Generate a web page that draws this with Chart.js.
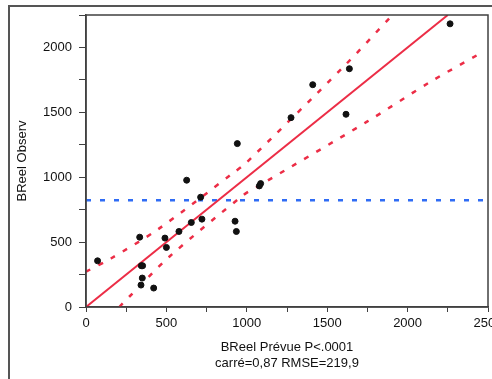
<!DOCTYPE html>
<html lang="fr">
<head>
  <meta charset="UTF-8" />
  <title>BReel Observ vs Prévue</title>
  <style>
    body {
      margin: 0;
      background-color: #ffffff;
    }
    .wrap {
      position: relative;
      width: 492px;
      height: 379px;
    }
  </style>
</head>
<body>
  <div class="wrap">
    <canvas id="fitChart" width="492" height="379"></canvas>
  </div>

  <script src="https://cdn.jsdelivr.net/npm/chart.js"></script>
  <script>
    // valeurs
    const predicted = [72, 334, 344, 352, 350, 342, 421, 491, 500, 578, 655, 713, 721, 626,
                       927, 935, 941, 1275, 1410, 1638, 1617, 1078, 1086, 2264];
    const observed  = [356, 538, 318, 318, 223, 169, 146, 531, 459, 582, 651, 846, 677, 977,
                       661, 582, 1259, 1459, 1713, 1836, 1485, 933, 951, 2182];
    const meanObserved = 823;
    const fitX = [0, 2250];
    const fitY = [0, 2250];
    const upperX = [0, 155, 446, 916, 991, 1600, 1901];
    const upperY = [272, 374, 597, 1033, 1105, 1849, 2244];
    const lowerX = [207, 269, 518, 978, 1057, 1745, 2139, 2440];
    const lowerY = [0, 79, 387, 862, 921, 1426, 1733, 1946];
    const xTicksMax = 2500;
    const yTicksMax = 2250;

    const red = '#ec2d46';
    const blue = '#2f6cf5';
    const axisColor = '#404040';

    const toPoints = (xs, ys) => xs.map((x, i) => ({ x: x, y: ys[i] }));

    // cadre du graphique et cadre extérieur
    const framePlugin = {
      id: 'frames',
      afterDraw(chart) {
        const { ctx, chartArea } = chart;
        ctx.save();
        ctx.strokeStyle = axisColor;
        ctx.lineWidth = 1.5;
        ctx.strokeRect(chartArea.left, chartArea.top,
                       chartArea.right - chartArea.left, chartArea.bottom - chartArea.top);
        ctx.strokeStyle = '#555555';
        ctx.lineWidth = 2;
        ctx.beginPath();
        ctx.moveTo(9, 379);
        ctx.lineTo(9, 6);
        ctx.lineTo(492, 6);
        ctx.stroke();
        ctx.restore();
      }
    };

    const tickFont = { family: '"Liberation Sans", Arial, sans-serif', size: 13 };

    new Chart(document.getElementById('fitChart'), {
      type: 'scatter',
      data: {
        datasets: [
          {
            label: 'Observations',
            data: toPoints(predicted, observed),
            backgroundColor: '#111111',
            borderColor: '#111111',
            pointRadius: 3,
            pointHoverRadius: 3
          },
          {
            label: 'Ajustement',
            data: toPoints(fitX, fitY),
            showLine: true,
            borderColor: red,
            borderWidth: 2,
            pointRadius: 0
          },
          {
            label: 'Limite haute',
            data: toPoints(upperX, upperY),
            showLine: true,
            borderColor: red,
            borderWidth: 2.5,
            borderDash: [5, 9],
            tension: 0.3,
            pointRadius: 0
          },
          {
            label: 'Limite basse',
            data: toPoints(lowerX, lowerY),
            showLine: true,
            borderColor: red,
            borderWidth: 2.5,
            borderDash: [5, 9],
            tension: 0.3,
            pointRadius: 0
          },
          {
            label: 'Moyenne',
            data: [{ x: 0, y: meanObserved }, { x: xTicksMax, y: meanObserved }],
            showLine: true,
            borderColor: blue,
            borderWidth: 2.5,
            borderDash: [5, 9],
            pointRadius: 0
          }
        ]
      },
      options: {
        responsive: false,
        animation: false,
        events: [],
        layout: { padding: { left: 9, right: 4, top: 15, bottom: 0 } },
        plugins: {
          legend: { display: false },
          tooltip: { enabled: false }
        },
        scales: {
          x: {
            type: 'linear',
            min: 0,
            max: xTicksMax,
            afterFit(scale) {
              scale.height = 72;
              scale.paddingLeft = 0;
              scale.paddingRight = 0;
            },
            border: { color: axisColor, width: 1.5 },
            grid: { drawOnChartArea: false, tickLength: 5, tickColor: axisColor },
            ticks: {
              stepSize: 250,
              autoSkip: false,
              maxRotation: 0,
              padding: 4,
              color: '#111111',
              font: tickFont,
              callback: v => (v % 500 === 0 ? String(v) : '')
            },
            title: {
              display: true,
              text: ['BReel Prévue P<.0001', 'carré=0,87 RMSE=219,9'],
              color: '#111111',
              font: { family: '"Liberation Sans", Arial, sans-serif', size: 13, lineHeight: 1.28 },
              padding: { top: 0, bottom: 7 }
            }
          },
          y: {
            type: 'linear',
            min: 0,
            max: yTicksMax,
            afterFit(scale) {
              scale.width = 77;
              scale.paddingTop = 0;
              scale.paddingBottom = 0;
            },
            border: { color: axisColor, width: 1.5 },
            grid: { drawOnChartArea: false, tickLength: 7, tickColor: axisColor },
            ticks: {
              stepSize: 250,
              autoSkip: false,
              padding: 7,
              color: '#111111',
              font: tickFont,
              callback: v => (v % 500 === 0 ? String(v) : '')
            },
            title: {
              display: true,
              text: 'BReel Observ',
              color: '#111111',
              font: { family: '"Liberation Sans", Arial, sans-serif', size: 13 },
              padding: { top: 6, bottom: 0 }
            }
          }
        }
      },
      plugins: [framePlugin]
    });
  </script>
</body>
</html>
